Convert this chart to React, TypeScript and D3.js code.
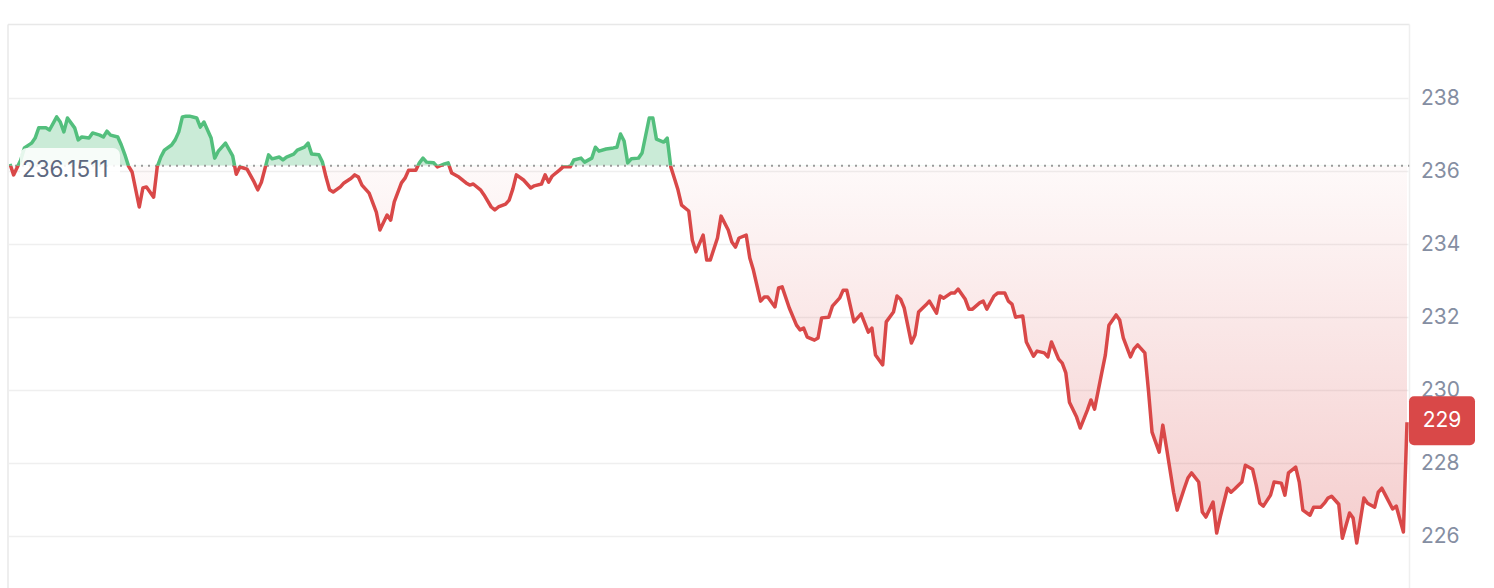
import React from "react";
import * as d3 from "d3";

// minutes since session open (index of bar) and price
const minutes = [
  0, 1, 3, 4, 6, 7, 8, 10, 11, 13,
  14, 15, 16, 18, 19, 20, 22, 23, 25, 26,
  27, 28, 30, 31, 32, 33, 34, 36, 37, 38,
  40, 41, 42, 43, 45, 46, 47, 48, 49, 50,
  52, 53, 54, 56, 57, 58, 60, 62, 63, 64,
  65, 66, 68, 69, 70, 72, 73, 75, 76, 77,
  79, 80, 82, 83, 84, 86, 87, 88, 89, 90,
  92, 93, 95, 96, 97, 98, 100, 102, 103, 105,
  106, 107, 109, 110, 111, 113, 114, 115, 116, 118,
  119, 121, 122, 123, 125, 127, 128, 129, 131, 132,
  134, 135, 136, 138, 139, 140, 141, 143, 144, 145,
  146, 148, 149, 150, 151, 153, 154, 155, 156, 157,
  159, 160, 162, 163, 164, 166, 168, 169, 170, 171,
  172, 173, 175, 176, 178, 179, 180, 182, 183, 184,
  185, 186, 187, 189, 190, 191, 193, 194, 195, 197,
  198, 200, 201, 202, 203, 205, 206, 207, 209, 210,
  211, 213, 214, 215, 217, 219, 220, 221, 222, 224,
  225, 226, 228, 229, 231, 232, 233, 235, 236, 237,
  239, 240, 241, 243, 244, 246, 247, 248, 249, 251,
  252, 253, 255, 256, 258, 259, 260, 262, 263, 264,
  266, 267, 268, 270, 271, 272, 274, 275, 277, 278,
  279, 280, 282, 283, 285, 286, 288, 289, 290, 292,
  293, 294, 295, 297, 298, 300, 301, 302, 304, 305,
  306, 308, 309, 310, 312, 313, 314, 316, 317, 318,
  320, 321, 322, 324, 325, 327, 328, 329, 331, 332,
  333, 335, 336, 337, 339, 340, 341, 343, 344, 346,
  347, 348, 349, 351, 352, 354, 355, 356, 358, 359,
  360, 362, 363, 365, 366, 367, 368, 370, 371, 373,
  374, 375, 377, 378, 380, 381, 382, 383, 385, 386,
  388, 389,
];

const prices = [
  236.2, 235.9, 236.31, 236.64, 236.77, 236.91, 237.19, 237.19, 237.13, 237.49,
  237.35, 237.08, 237.46, 237.19, 236.86, 236.94, 236.91, 237.05, 236.99, 236.94,
  237.1, 236.99, 236.94, 236.72, 236.45, 236.14, 235.98, 235.02, 235.54, 235.57,
  235.29, 236.12, 236.39, 236.58, 236.72, 236.86, 237.08, 237.49, 237.51, 237.51,
  237.46, 237.21, 237.35, 236.91, 236.36, 236.55, 236.77, 236.42, 235.92, 236.12,
  236.09, 236.06, 235.7, 235.49, 235.7, 236.45, 236.34, 236.39, 236.31, 236.39,
  236.47, 236.58, 236.66, 236.77, 236.47, 236.45, 236.25, 235.84, 235.49, 235.43,
  235.57, 235.68, 235.81, 235.9, 235.84, 235.62, 235.4, 234.88, 234.39, 234.8,
  234.66, 235.16, 235.68, 235.81, 236.03, 236.03, 236.23, 236.36, 236.25, 236.23,
  236.12, 236.2, 236.23, 235.95, 235.84, 235.68, 235.62, 235.65, 235.49, 235.35,
  235.02, 234.94, 235.02, 235.1, 235.21, 235.51, 235.9, 235.76, 235.65, 235.54,
  235.6, 235.65, 235.9, 235.7, 235.87, 236.03, 236.12, 236.12, 236.12, 236.31,
  236.36, 236.25, 236.36, 236.66, 236.55, 236.61, 236.64, 236.66, 237.02, 236.83,
  236.23, 236.34, 236.36, 236.5, 237.46, 237.46, 236.88, 236.8, 236.91, 236.12,
  235.81, 235.49, 235.07, 234.91, 234.11, 233.79, 234.25, 233.57, 233.57, 234.17,
  234.77, 234.39, 234.06, 233.92, 234.17, 234.25, 233.62, 233.29, 232.44, 232.55,
  232.55, 232.28, 232.8, 232.83, 232.25, 231.78, 231.65, 231.7, 231.45, 231.37,
  231.43, 231.98, 232.0, 232.3, 232.52, 232.74, 232.74, 231.87, 231.98, 232.09,
  231.59, 231.7, 230.96, 230.69, 231.87, 232.14, 232.58, 232.49, 232.25, 231.29,
  231.51, 232.14, 232.33, 232.44, 232.11, 232.58, 232.52, 232.66, 232.66, 232.77,
  232.49, 232.22, 232.22, 232.39, 232.44, 232.22, 232.58, 232.66, 232.66, 232.44,
  232.36, 232.0, 232.03, 231.32, 230.93, 231.07, 231.02, 230.91, 231.32, 230.85,
  230.74, 230.47, 229.67, 229.26, 228.96, 229.45, 229.73, 229.48, 230.47, 230.96,
  231.78, 232.06, 231.92, 231.43, 230.91, 231.13, 231.24, 231.02, 230.0, 228.85,
  228.3, 229.04, 228.44, 227.2, 226.71, 227.31, 227.59, 227.73, 227.48, 226.66,
  226.52, 226.93, 226.08, 226.52, 227.31, 227.2, 227.29, 227.48, 227.94, 227.83,
  227.4, 226.9, 226.82, 227.12, 227.48, 227.45, 227.12, 227.73, 227.89, 227.48,
  226.71, 226.57, 226.79, 226.79, 226.9, 227.04, 227.09, 226.87, 225.94, 226.63,
  226.49, 225.81, 227.04, 226.9, 226.79, 227.2, 227.31, 227.12, 226.74, 226.82,
  226.11, 229.12,
];

const baseline = 236.1511;
const yTicks = [226, 228, 230, 232, 234, 236, 238];
const sessionMinutes = 389;

const W = 1494;
const H = 588;
const FONT = "Inter, 'Noto Sans', sans-serif";

export default function App() {
  const x = d3.scaleLinear().domain([0, sessionMinutes]).range([10, 1407]);
  const y = d3.scaleLinear().domain([226, 238]).range([536, 98.3]);
  const data = minutes.map((m, i) => ({ m, p: prices[i] }));
  const by = y(baseline);

  const line = d3
    .line<{ m: number; p: number }>()
    .x((d) => x(d.m))
    .y((d) => y(d.p));
  const area = d3
    .area<{ m: number; p: number }>()
    .x((d) => x(d.m))
    .y0(by)
    .y1((d) => y(d.p));

  const last = prices[prices.length - 1];
  const lastY = y(last);
  const paneLeft = 8;
  const paneRight = 1409.5;
  const paneTop = 24.5;

  return (
    <svg
      width={W}
      height={H}
      style={{ position: "absolute", left: 0, top: 0, display: "block", background: "#fff" }}
    >
      <defs>
        <clipPath id="pane">
          <rect x={paneLeft + 1} y={paneTop + 1} width={paneRight - paneLeft - 1} height={H} />
        </clipPath>
        <clipPath id="above">
          <rect x={0} y={0} width={W} height={by} />
        </clipPath>
        <clipPath id="below">
          <rect x={0} y={by} width={W} height={H - by} />
        </clipPath>
        <linearGradient id="redFill" gradientUnits="userSpaceOnUse" x1={0} y1={by} x2={0} y2={y(225.8)}>
          <stop offset="0%" stopColor="rgb(217,72,72)" stopOpacity={0.03} />
          <stop offset="100%" stopColor="rgb(217,72,72)" stopOpacity={0.27} />
        </linearGradient>
      </defs>

      {/* pane frame */}
      <line x1={paneLeft} x2={paneLeft} y1={paneTop} y2={H} stroke="#e8e8e8" strokeWidth={1.5} />
      <line x1={paneLeft} x2={paneRight} y1={paneTop} y2={paneTop} stroke="#e8e8e8" strokeWidth={1.5} />
      <line x1={paneRight} x2={paneRight} y1={paneTop} y2={H} stroke="#efefef" strokeWidth={1.5} />

      {/* grid */}
      <g>
        {yTicks.map((t) => (
          <line
            key={t}
            x1={paneLeft + 1}
            x2={paneRight - 1}
            y1={Math.round(y(t)) + 0.5}
            y2={Math.round(y(t)) + 0.5}
            stroke="#efefef"
            strokeWidth={1.5}
          />
        ))}
      </g>

      <g clipPath="url(#pane)">
        <g clipPath="url(#above)">
          <path d={area(data) || ""} fill="rgba(83,192,125,0.31)" />
        </g>
        <g clipPath="url(#below)">
          <path d={area(data) || ""} fill="url(#redFill)" />
        </g>
        <line
          x1={paneLeft}
          x2={paneRight}
          y1={by}
          y2={by}
          stroke="#9a9a9a"
          strokeWidth={2}
          strokeDasharray="2 5"
        />
        <g clipPath="url(#above)">
          <path d={line(data) || ""} fill="none" stroke="#53bf7d" strokeWidth={3.5} strokeLinejoin="round" />
        </g>
        <g clipPath="url(#below)">
          <path d={line(data) || ""} fill="none" stroke="#d94848" strokeWidth={3.5} strokeLinejoin="round" />
        </g>
      </g>

      {/* baseline label */}
      <rect x={20} y={148} width={100} height={42} rx={7} fill="rgba(255,255,255,0.85)" />
      <text
        x={22}
        y={by + 5}
        dominantBaseline="middle"
        fontFamily={FONT}
        fontSize={22.5}
        fill="#5d6880"
      >
        {d3.format(".4f")(baseline)}
      </text>

      {/* price axis */}
      <g fontFamily={FONT} fontSize={21} fill="#858ea2">
        {yTicks.map((t) => (
          <text key={t} x={1421} y={y(t) + 1} dominantBaseline="middle">
            {t}
          </text>
        ))}
      </g>

      {/* last price label */}
      <rect x={1409} y={lastY - 26} width={66} height={49} rx={5} fill="#d94848" />
      <text
        x={1442}
        y={lastY - 1}
        dominantBaseline="middle"
        textAnchor="middle"
        fontFamily={FONT}
        fontSize={21}
        fill="#ffffff"
      >
        {d3.format(".0f")(last)}
      </text>
    </svg>
  );
}
